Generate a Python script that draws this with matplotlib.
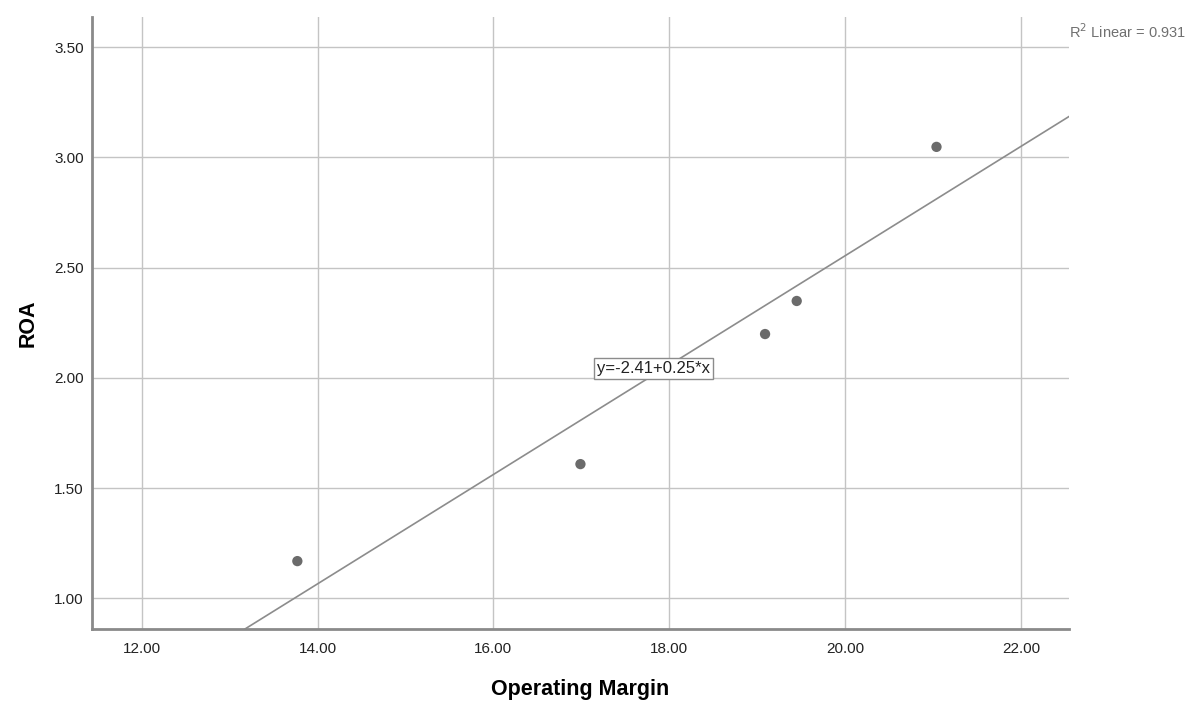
import numpy as np
import matplotlib
matplotlib.use("Agg")
import matplotlib.pyplot as plt

# values
operating_margin = [13.77, 16.99, 19.09, 19.45, 21.04]
roa = [1.169, 1.609, 2.199, 2.349, 3.048]
x_ticks = [12.0, 14.0, 16.0, 18.0, 20.0, 22.0]
y_ticks = [1.0, 1.5, 2.0, 2.5, 3.0, 3.5]
fit_label = "y=-2.41+0.25*x"
r2_label = "R$^2$ Linear = 0.931"

plt.rcParams["font.family"] = ["Liberation Sans", "DejaVu Sans"]

fig = plt.figure(figsize=(11.96, 7.01), dpi=100)
ax = fig.add_axes([0.0769, 0.1027, 0.8169, 0.873])

xlim = (11.434, 22.547)
ylim = (0.861, 3.637)

grid_c = "#c4c4c4"
for xv in x_ticks:
    ax.axvline(xv, color=grid_c, lw=1.0, zorder=1)
for yv in y_ticks:
    ax.axhline(yv, color=grid_c, lw=1.0, zorder=1)

# regression line
slope, intercept = np.polyfit(operating_margin, roa, 1)
xs = np.array(xlim)
ax.plot(xs, intercept + slope * xs, color="#8c8c8c", lw=1.2, zorder=2)

ax.scatter(operating_margin, roa, s=55, color="#6b6b6b", edgecolors="none", zorder=3)

ax.text(17.82, 2.042, fit_label, ha="center", va="center", fontsize=12, color="#222222",
        bbox=dict(boxstyle="square,pad=0.2", facecolor="white", edgecolor="#8c8c8c", lw=1.0),
        zorder=4)

ax.set_xlim(*xlim)
ax.set_ylim(*ylim)
ax.set_xticks(x_ticks)
ax.set_yticks(y_ticks)
ax.set_xticklabels([f"{v:.2f}" for v in x_ticks])
ax.set_yticklabels([f"{v:.2f}" for v in y_ticks])
ax.tick_params(length=0, labelsize=11, colors="#222222")
ax.tick_params(axis="x", pad=9)
ax.tick_params(axis="y", pad=6)

for side in ["top", "right"]:
    ax.spines[side].set_visible(False)
for side in ["left", "bottom"]:
    ax.spines[side].set_color("#8a8a8a")
    ax.spines[side].set_linewidth(2)

ax.set_xlabel("Operating Margin", fontsize=15.5, fontweight="bold", labelpad=17)
ax.set_ylabel("ROA", fontsize=15.5, fontweight="bold", labelpad=11)

fig.text(0.894, 0.955, r2_label, fontsize=10.5, color="#707070", ha="left", va="center")

fig.savefig("out.png", dpi=100)
